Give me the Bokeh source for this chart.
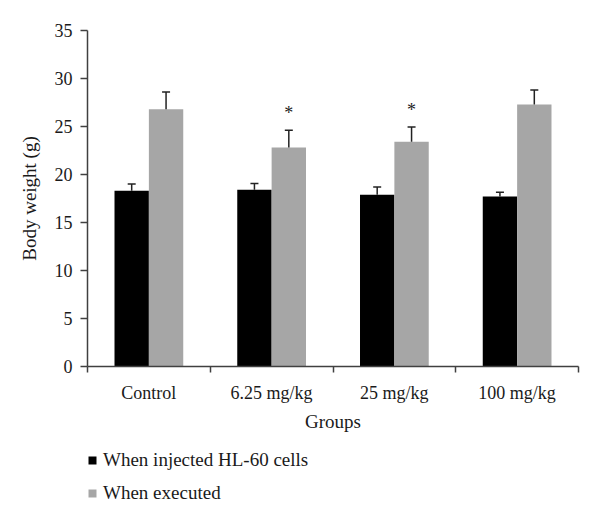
from bokeh.plotting import figure
from bokeh.layouts import column
from bokeh.models import (ColumnDataSource, Range1d, FixedTicker, Whisker, TeeHead,
                          Legend, LegendItem)
from bokeh.transform import dodge
from bokeh.core.properties import value
from bokeh.embed import file_html
from bokeh.resources import INLINE

groups = ["Control", "6.25 mg/kg", "25 mg/kg", "100 mg/kg"]
injected = [18.3, 18.4, 17.9, 17.7]
injected_err = [0.7, 0.65, 0.8, 0.45]
executed = [26.8, 22.8, 23.4, 27.3]
executed_err = [1.8, 1.8, 1.55, 1.5]
significant = ["", "*", "*", ""]
y_ticks = [0, 5, 10, 15, 20, 25, 30, 35]
series_names = ["When injected HL-60 cells", "When executed"]

FONT = "Liberation Serif"
BLACK = "#000000"
GRAY = "#a6a6a6"
AXIS = "#404040"
TXT = "#1a1a1a"

xs = [i + 0.5 for i in range(len(groups))]
src = ColumnDataSource(dict(
    x=xs,
    inj=injected,
    inj_up=[v + e for v, e in zip(injected, injected_err)],
    exe=executed,
    exe_up=[v + e for v, e in zip(executed, executed_err)],
    sig=significant,
))

p = figure(frame_width=491, frame_height=336, output_backend="svg", toolbar_location=None,
           x_range=Range1d(0, len(groups)), y_range=Range1d(0, 35),
           min_border_left=87, min_border_right=14, min_border_top=30,
           min_border_bottom=78)
p.outline_line_color = None
p.xgrid.grid_line_color = None
p.ygrid.grid_line_color = None
p.background_fill_color = "white"

off = 0.14
w = 0.28
r1 = p.vbar(x=dodge("x", -off, range=p.x_range), top="inj", width=w, bottom=0,
            source=src, fill_color=BLACK, line_color=None)
r2 = p.vbar(x=dodge("x", off, range=p.x_range), top="exe", width=w, bottom=0,
            source=src, fill_color=GRAY, line_color=None)

for col_lo, col_hi, dx in (("inj", "inj_up", -off), ("exe", "exe_up", off)):
    wh = Whisker(source=src, base=dodge("x", dx, range=p.x_range), lower=col_lo, upper=col_hi,
                 lower_head=None,
                 upper_head=TeeHead(size=8, line_color="#222222", line_width=1.5),
                 line_color="#222222", line_width=1.5, level="overlay")
    p.add_layout(wh)

p.text(x=dodge("x", off, range=p.x_range), y="exe_up", text="sig", source=src,
       text_font=value(FONT), text_font_size="18px", text_color="#222222",
       text_align="center", text_baseline="alphabetic", y_offset=-17)

# axes
xa = p.xaxis[0]
xa.ticker = FixedTicker(ticks=xs, minor_ticks=list(range(len(groups) + 1)))
xa.major_label_overrides = {x: g for x, g in zip(xs, groups)}
xa.major_tick_line_color = None
xa.minor_tick_line_color = AXIS
xa.minor_tick_out = 6
xa.minor_tick_in = 0
xa.minor_tick_line_width = 1.5
xa.axis_line_color = AXIS
xa.axis_line_width = 1.5
xa.major_label_text_font = FONT
xa.major_label_text_font_size = "18px"
xa.major_label_text_color = TXT
xa.major_label_standoff = 10
xa.axis_label = "Groups"
xa.axis_label_text_font = FONT
xa.axis_label_text_font_size = "19px"
xa.axis_label_text_font_style = "normal"
xa.axis_label_text_color = TXT
xa.axis_label_standoff = 5

ya = p.yaxis[0]
ya.ticker = FixedTicker(ticks=y_ticks, minor_ticks=[])
ya.axis_line_color = AXIS
ya.axis_line_width = 1.5
ya.major_tick_line_color = AXIS
ya.major_tick_line_width = 1.5
ya.major_tick_out = 7
ya.major_tick_in = 0
ya.major_label_text_font = FONT
ya.major_label_text_font_size = "18px"
ya.major_label_text_color = TXT
ya.major_label_standoff = 8
ya.axis_label = "Body weight (g)"
ya.axis_label_text_font = FONT
ya.axis_label_text_font_size = "19px"
ya.axis_label_text_font_style = "normal"
ya.axis_label_text_color = TXT
ya.axis_label_standoff = 12

# legend panel below the chart (swatches taken from the chart's bar glyph styles)
lg = figure(width=p.frame_width + 87 + 14, height=70, output_backend="svg",
            toolbar_location=None, x_range=Range1d(0, 1), y_range=Range1d(0, 1),
            x_axis_location=None, y_axis_location=None, min_border=0)
lg.xgrid.grid_line_color = None
lg.ygrid.grid_line_color = None
lg.outline_line_color = None
swatch = ColumnDataSource(dict(x=[-5], top=[-5]))   # outside the visible range
l1 = lg.vbar(x="x", top="top", width=0.1, source=swatch, fill_color=BLACK, line_color=None)
l2 = lg.vbar(x="x", top="top", width=0.1, source=swatch, fill_color=GRAY, line_color=None)
legend = Legend(items=[LegendItem(label=series_names[0], renderers=[l1]),
                       LegendItem(label=series_names[1], renderers=[l2])],
                location=(0, 10), orientation="vertical",
                label_text_font=FONT, label_text_font_size="19px",
                label_text_color=TXT,
                glyph_width=10, glyph_height=10, label_standoff=6,
                spacing=11, padding=0, margin=0,
                border_line_color=None, background_fill_alpha=0)
lg.add_layout(legend)

layout = column(p, lg, spacing=0)
open("out.html", "w").write(file_html(layout, INLINE))
